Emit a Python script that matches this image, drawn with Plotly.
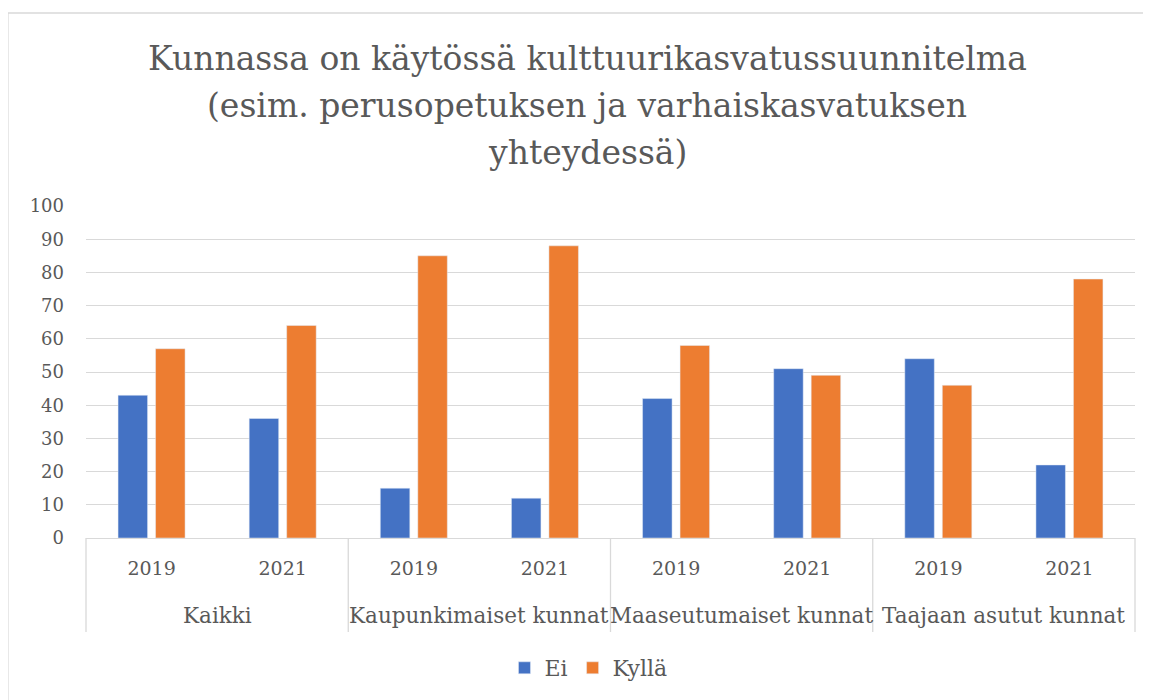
import plotly.graph_objects as go

groups = ["Kaikki", "Kaupunkimaiset kunnat", "Maaseutumaiset kunnat", "Taajaan asutut kunnat"]
years = ["2019", "2021"]
ei = [43, 36, 15, 12, 42, 51, 54, 22]
kylla = [57, 64, 85, 88, 58, 49, 46, 78]
y_ticks = [0, 10, 20, 30, 40, 50, 60, 70, 80, 90, 100]
title_lines = ["Kunnassa on käytössä kulttuurikasvatussuunnitelma",
               "(esim. perusopetuksen ja varhaiskasvatuksen",
               "yhteydessä)"]

cats = [f"{g} {y}" for g in groups for y in years]
cat_labels = [y for _ in groups for y in years]

FONT = "DejaVu Serif"
GREY = "#595959"
LINE = "#D9D9D9"

fig = go.Figure()
fig.add_trace(go.Bar(name="Ei", x=cats, y=ei, marker_color="#4472C4"))
fig.add_trace(go.Bar(name="Kyllä", x=cats, y=kylla, marker_color="#ED7D31"))

PH = 332.0  # plot height in px
fig.update_layout(
    width=1151, height=700,
    paper_bgcolor="white", plot_bgcolor="white",
    margin=dict(l=78, r=24, t=198, b=170, autoexpand=False),
    barmode="group", bargap=0.428, bargroupgap=0.213,
    font=dict(family=FONT, size=18, color=GREY),
    legend=dict(orientation="h", x=0.479, xanchor="center", y=-130 / PH, yanchor="middle",
                font=dict(family=FONT, size=22, color=GREY), itemwidth=30),
    showlegend=True,
)
fig.update_yaxes(range=[0, 100], tickvals=y_ticks, showgrid=True, gridcolor=LINE,
                 gridwidth=1.3, zeroline=False, showline=False, ticks="", automargin=False,
                 tickfont=dict(family=FONT, size=18, color=GREY), ticklabelstandoff=21)
fig.update_xaxes(type="category", categoryorder="array", categoryarray=cats,
                 tickvals=cats, ticktext=cat_labels, automargin=False,
                 showline=True, linecolor=LINE, linewidth=1.3, ticks="", showgrid=False,
                 tickfont=dict(family=FONT, size=19, color=GREY), ticklabelstandoff=13)

# title, one annotation per line
for k, line in enumerate(title_lines):
    yc = 50 + 47 * k  # centre of line, px from top of figure
    fig.add_annotation(text=line, xref="paper", yref="paper", x=0.478, y=(530 - yc) / PH,
                       xanchor="center", yanchor="middle", showarrow=False,
                       font=dict(family=FONT, size=33, color=GREY))

# group labels and dividers
n = len(groups)
for i, g in enumerate(groups):
    fig.add_annotation(text=g, xref="paper", yref="paper", x=(i + 0.5) / n, y=-77 / PH,
                       xanchor="center", yanchor="middle", showarrow=False,
                       font=dict(family=FONT, size=21.5, color=GREY))
for i in range(n + 1):
    fig.add_shape(type="line", xref="paper", yref="paper", x0=i / n, x1=i / n, y0=0, y1=-94 / PH,
                  line=dict(color=LINE, width=1.3))

# chart border (left and top edges visible)
fig.add_shape(type="line", xref="paper", yref="paper", x0=-0.0744, x1=-0.0744, y0=-0.6, y1=1.5813,
              line=dict(color=LINE, width=1.3))
fig.add_shape(type="line", xref="paper", yref="paper", x0=-0.0744, x1=1.1, y0=1.5813, y1=1.5813,
              line=dict(color=LINE, width=1.3))

fig.write_html("out.html")
